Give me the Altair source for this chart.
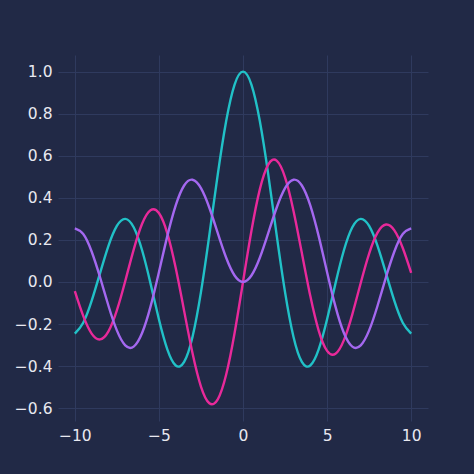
import altair as alt
import pandas as pd

x_vals = [i * 0.5 for i in range(-20, 21)]

j0 = [-0.2459, -0.1939, -0.0903, 0.0419, 0.1717, 0.2663, 0.3001, 0.2601, 0.1506, -0.0068,
      -0.1776, -0.3205, -0.3971, -0.3801, -0.2601, -0.0484, 0.2239, 0.5118, 0.7652, 0.9385,
      1.0,
      0.9385, 0.7652, 0.5118, 0.2239, -0.0484, -0.2601, -0.3801, -0.3971, -0.3205, -0.1776,
      -0.0068, 0.1506, 0.2601, 0.3001, 0.2663, 0.1717, 0.0419, -0.0903, -0.1939, -0.2459]

j1 = [-0.0435, -0.1613, -0.2453, -0.2731, -0.2346, -0.1352, 0.0047, 0.1538, 0.2767, 0.3414,
      0.3276, 0.2311, 0.0660, -0.1374, -0.3391, -0.4971, -0.5767, -0.5579, -0.4401, -0.2423,
      0.0,
      0.2423, 0.4401, 0.5579, 0.5767, 0.4971, 0.3391, 0.1374, -0.0660, -0.2311, -0.3276,
      -0.3414, -0.2767, -0.1538, -0.0047, 0.1352, 0.2346, 0.2731, 0.2453, 0.1613, 0.0435]

j2 = [0.2546, 0.2279, 0.1448, 0.0223, -0.1130, -0.2303, -0.3014, -0.3074, -0.2429, -0.1173,
      0.0466, 0.2178, 0.3641, 0.4586, 0.4861, 0.4461, 0.3528, 0.2321, 0.1149, 0.0306,
      0.0,
      0.0306, 0.1149, 0.2321, 0.3528, 0.4461, 0.4861, 0.4586, 0.3641, 0.2178, 0.0466,
      -0.1173, -0.2429, -0.3074, -0.3014, -0.2303, -0.1130, 0.0223, 0.1448, 0.2279, 0.2546]

series_names = ["J0", "J1", "J2"]
series_colors = ["#21c1c7", "#e8299a", "#a468f0"]
x_ticks = [-10, -5, 0, 5, 10]
y_ticks = [-0.6, -0.4, -0.2, 0.0, 0.2, 0.4, 0.6, 0.8, 1.0]
BG = "#212946"

rows = []
for name, vals, order in zip(series_names, [j0, j1, j2], range(3)):
    for xv, yv in zip(x_vals, vals):
        rows.append({"x": xv, "y": yv, "series": name, "order": order})
df = pd.DataFrame(rows)

chart = alt.Chart(df).mark_line(strokeWidth=2.4, interpolate="natural", clip=True).encode(
    x=alt.X("x:Q", scale=alt.Scale(domain=[-11, 11], nice=False, zero=False),
            axis=alt.Axis(values=x_ticks, format="d", title=None, labelPadding=7)),
    y=alt.Y("y:Q", scale=alt.Scale(domain=[-0.661, 1.079], nice=False, zero=False),
            axis=alt.Axis(values=y_ticks, format=".1f", title=None, labelPadding=6)),
    color=alt.Color("series:N", scale=alt.Scale(domain=series_names, range=series_colors), legend=None),
    detail="series:N",
).properties(
    width=370, height=366,
    autosize="none",
    padding={"left": 50, "top": 47, "right": 38, "bottom": 45},
    background=BG,
).configure_view(stroke=None).configure_axis(
    domain=False, ticks=False, grid=True, gridColor="#2f3a5e", gridWidth=1,
    labelColor="#e8e8f0", labelFont="DejaVu Sans", labelFontSize=15.5,
)

save_kwargs = {}
try:
    from altair.utils.html import TEMPLATES

    _base_tpl = TEMPLATES["standard"]

    class _DarkPageTemplate:
        def render(self, **kw):
            page = _base_tpl.render(**kw)
            return page.replace(
                "<style>",
                "<style>\n    html, body { background: " + BG + "; }\n",
                1,
            )

    save_kwargs["template"] = _DarkPageTemplate()
except Exception:
    save_kwargs = {}

chart.save("out.html", embed_options={"renderer": "svg", "actions": False}, **save_kwargs)
